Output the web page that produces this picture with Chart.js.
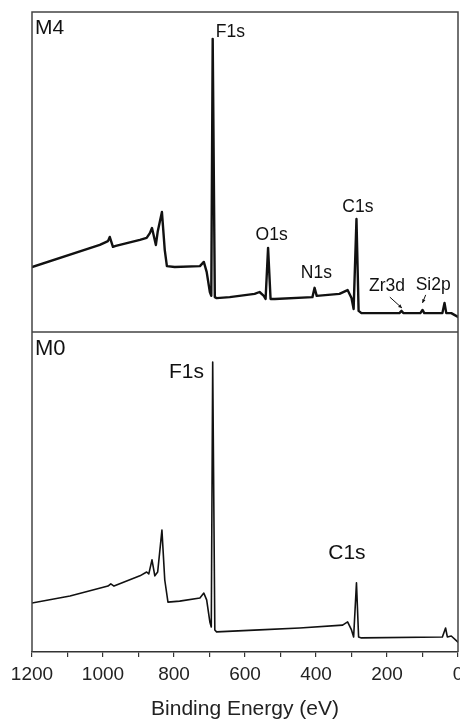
<!DOCTYPE html>
<html><head><meta charset="utf-8">
<script src="https://cdn.jsdelivr.net/npm/chart.js@4"></script>
<style>html,body{margin:0;padding:0;background:#fff;}</style>
</head><body>
<canvas id="c" width="460" height="722"></canvas>
<script>
// ---- data (binding energy in eV, intensity in a.u.) ----
const energyTop = [1200,1009,986,981,972,964, 896,877,868,862,851,846, 834,826,820,798,727,716, 708,699,695,691,685,680, 643,573,559,547,542,535, 528,516,410,404,398,334, 311,300,294,286,280,272, 165,159,154,106,100,95, 44,38,33,19,0];
const intensityTop = [20.3,27.2,28.4,29.7,26.6,26.9, 28.8,29.4,30.9,32.5,27.2,31.3, 37.5,25.6,20.6,20.3,20.6,21.9, 18.8,12.5,11.3,91.6,10.9,10.6, 10.9,11.9,12.5,11.3,10.3,26.3, 10.3,10.3,10.9,13.8,11.3,11.9, 13.1,10.6,7.2,35.3,6.6,5.9, 5.9,6.6,5.9,5.9,6.9,5.9, 5.9,9.1,5.9,5.9,4.7];

const energyBot = [1200,1093,986,978,969,896, 877,871,862,854,846,834, 826,817,784,727,716,708, 699,695,691,685,680,559, 446,325,311,300,294,286, 280,272,44,35,30,19, 0];
const intensityBot = [15.3,17.5,20.6,21.3,20.6,23.8, 25.0,24.4,28.8,23.8,25.0,38.1, 22.5,15.6,15.9,16.9,18.4,16.3, 9.4,7.8,90.6,6.9,6.3,6.9, 7.5,8.4,9.4,6.9,4.7,21.6, 4.7,4.4,4.7,7.5,4.7,5.0, 3.1];

const panelNames = ['M4','M0'];
const topLabels = ['F1s','O1s','N1s','C1s','Zr3d','Si2p'];
const topLabelEnergy = [641,525,399,282,200,70];
const topLabelIntensity = [93.8,30.3,18.4,39.1,14.4,14.7];
const botLabels = ['F1s','C1s'];
const botLabelEnergy = [765,313];
const botLabelIntensity = [87.5,30.9];
// arrows (Zr3d, Si2p) in data units
const arrowFromEnergy = [192,91];
const arrowFromIntensity = [10.9,11.6];
const arrowToEnergy = [158,100];
const arrowToIntensity = [7.5,9.1];

const FONT = "'Liberation Sans', Arial, sans-serif";

const framePlugin = {
  id:'frame',
  afterDatasetsDraw(chart){
    const {ctx, chartArea:a, scales} = chart;
    const x = scales.x, yT = scales.yTop, yB = scales.yBot;
    ctx.save();
    ctx.strokeStyle = '#444';
    ctx.lineWidth = 1.5;
    ctx.beginPath();
    ctx.moveTo(a.left, a.bottom); ctx.lineTo(a.left, a.top);
    ctx.lineTo(a.right, a.top); ctx.lineTo(a.right, a.bottom);
    ctx.moveTo(a.left, yB.top); ctx.lineTo(a.right, yB.top);
    ctx.stroke();

    ctx.fillStyle = '#111';
    ctx.textBaseline = 'middle';
    // panel names
    ctx.textAlign = 'left';
    ctx.font = '21px ' + FONT;
    ctx.fillText(panelNames[0], a.left + 3, yT.top + 16);
    ctx.font = '22px ' + FONT;
    ctx.fillText(panelNames[1], a.left + 3, yB.top + 17);
    // peak labels
    ctx.textAlign = 'center';
    ctx.font = '17.5px ' + FONT;
    topLabels.forEach((t,i)=>{
      ctx.fillText(t, x.getPixelForValue(topLabelEnergy[i]), yT.getPixelForValue(topLabelIntensity[i]));
    });
    ctx.font = '21px ' + FONT;
    botLabels.forEach((t,i)=>{
      ctx.fillText(t, x.getPixelForValue(botLabelEnergy[i]), yB.getPixelForValue(botLabelIntensity[i]));
    });
    // arrows
    ctx.strokeStyle = '#111';
    ctx.lineWidth = 1;
    arrowFromEnergy.forEach((e,i)=>{
      const x1 = x.getPixelForValue(e), y1 = yT.getPixelForValue(arrowFromIntensity[i]);
      const x2 = x.getPixelForValue(arrowToEnergy[i]), y2 = yT.getPixelForValue(arrowToIntensity[i]);
      ctx.beginPath(); ctx.moveTo(x1,y1); ctx.lineTo(x2,y2); ctx.stroke();
      const ang = Math.atan2(y2-y1, x2-x1), h = 4;
      ctx.beginPath();
      ctx.moveTo(x2,y2);
      ctx.lineTo(x2 - h*Math.cos(ang-0.45), y2 - h*Math.sin(ang-0.45));
      ctx.lineTo(x2 - h*Math.cos(ang+0.45), y2 - h*Math.sin(ang+0.45));
      ctx.closePath(); ctx.fill();
    });
    ctx.restore();
  }
};

new Chart(document.getElementById('c'), {
  type:'line',
  data:{datasets:[
    {label:panelNames[0], data: energyTop.map((e,i)=>({x:e, y:intensityTop[i]})), yAxisID:'yTop',
     borderColor:'#111', borderWidth:2.4, borderJoinStyle:'round', borderCapStyle:'round', pointRadius:0, tension:0, fill:false},
    {label:panelNames[1], data: energyBot.map((e,i)=>({x:e, y:intensityBot[i]})), yAxisID:'yBot',
     borderColor:'#111', borderWidth:1.6, borderJoinStyle:'round', borderCapStyle:'round', pointRadius:0, tension:0, fill:false}
  ]},
  options:{
    responsive:false, animation:false,
    layout:{padding:{top:12, left:32, right:2, bottom:0}},
    plugins:{legend:{display:false}, tooltip:{enabled:false}},
    scales:{
      x:{type:'linear', reverse:true, min:0, max:1200,
         ticks:{stepSize:100, autoSkip:false, maxRotation:0, padding:6,
                callback:v => (v % 200 === 0 ? String(v) : ''),
                font:{family:FONT, size:19}, color:'#222'},
         grid:{display:true, drawOnChartArea:false, drawTicks:true, tickLength:5, color:'#333', lineWidth:1.2},
         border:{display:true, color:'#333', width:1.5},
         title:{display:true, text:'Binding Energy (eV)', font:{family:FONT, size:21}, color:'#222', padding:{top:5, bottom:0}},
         afterFit: s => { s.paddingRight = 0; s.paddingLeft = 0; }
      },
      yTop:{type:'linear', display:false, min:0, max:100, stack:'panels', stackWeight:1, weight:1},
      yBot:{type:'linear', display:false, min:0, max:100, stack:'panels', stackWeight:1, weight:0}
    }
  },
  plugins:[framePlugin]
});
</script>
</body></html>
